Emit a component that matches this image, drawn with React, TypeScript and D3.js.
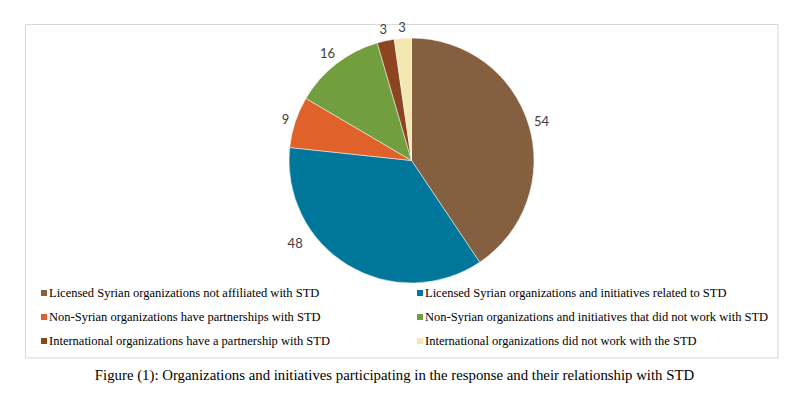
import * as d3 from 'd3'

const categories = [
  'Licensed Syrian organizations not affiliated with STD',
  'Licensed Syrian organizations and initiatives related to STD',
  'Non-Syrian organizations have partnerships with STD',
  'Non-Syrian organizations and initiatives that did not work with STD',
  'International organizations have a partnership with STD',
  'International organizations did not work with the STD',
]
const values = [54, 48, 9, 16, 3, 3]
const colors = ['#846040', '#00769a', '#e0622a', '#729e40', '#8b451f', '#f5e7b2']
const caption =
  'Figure (1): Organizations and initiatives participating in the response and their relationship with STD'

const W = 801
const H = 394

export default function App() {
  const cx = 411.5
  const cy = 160.5
  const r = 122.5
  const maxLabelY = 240

  const pie = d3
    .pie<number>()
    .sort(null)
    .value((d) => d)
  const arcs = pie(values)
  const arc = d3.arc<d3.PieArcDatum<number>>().innerRadius(0).outerRadius(r)

  // outside-end labels, pushed round the rim if they would sit over the legend
  const labels = arcs.map((a) => {
    let t = (a.startAngle + a.endAngle) / 2
    const halfW = String(a.data).length * 3.5
    const halfH = 6
    const rad = (th: number) => r + 5 + Math.abs(Math.sin(th)) * halfW + Math.abs(Math.cos(th)) * halfH
    if (cy - rad(t) * Math.cos(t) > maxLabelY) {
      for (let i = 0; i < 200 && cy - rad(t) * Math.cos(t) > maxLabelY; i++) {
        t += Math.sin(t) < 0 ? 0.01 : -0.01
      }
    }
    const R = rad(t) + (t !== (a.startAngle + a.endAngle) / 2 ? 6 : 0)
    return { x: cx + R * Math.sin(t), y: cy - R * Math.cos(t), text: String(a.data) }
  })

  const colX = d3.scaleOrdinal<number, number>().domain([0, 1]).range([41, 417])
  const rowY = d3.scalePoint<number>().domain([0, 1, 2]).range([293, 341])

  return (
    <svg
      width={W}
      height={H}
      style={{ position: 'absolute', left: 0, top: 0, display: 'block', background: '#fff' }}
    >
      <rect x={25.5} y={24.5} width={752.5} height={333.5} fill="#fff" stroke="#d9d9d9" strokeWidth={1} />
      <g transform={`translate(${cx},${cy})`}>
        {arcs.map((a, i) => (
          <path key={i} d={arc(a) ?? ''} fill={colors[i]} stroke="#fff" strokeWidth={0.5} />
        ))}
      </g>
      {labels.map((l, i) => (
        <text
          key={i}
          x={l.x}
          y={l.y}
          textAnchor="middle"
          dominantBaseline="central"
          fontFamily="Lato, 'Open Sans', sans-serif"
          fontSize={13}
          fill="#404040"
        >
          {l.text}
        </text>
      ))}
      {categories.map((c, i) => {
        const x = colX(i % 2)
        const y = rowY(Math.floor(i / 2)) ?? 0
        return (
          <g key={c}>
            <rect x={x} y={y - 3} width={6} height={6} fill={colors[i]} />
            <text
              x={x + 8}
              y={y}
              dominantBaseline="central"
              fontFamily="'Liberation Serif', 'Times New Roman', serif"
              fontSize={12.5}
              fill="#000"
            >
              {c}
            </text>
          </g>
        )
      })}
      <text
        x={394.5}
        y={375}
        textAnchor="middle"
        dominantBaseline="central"
        fontFamily="'Liberation Serif', 'Times New Roman', serif"
        fontSize={14.8}
        fill="#000"
      >
        {caption}
      </text>
    </svg>
  )
}
